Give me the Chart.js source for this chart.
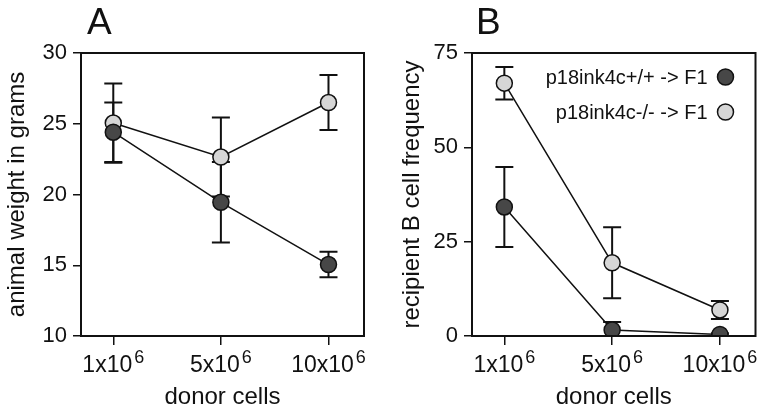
<!DOCTYPE html>
<html>
<head>
<meta charset="utf-8">
<script src="https://cdn.jsdelivr.net/npm/chart.js@4.4.1/dist/chart.umd.min.js"></script>
<style>
    html, body { margin: 0; padding: 0; background: #fff; }
    #wrap { position: relative; width: 765px; height: 413px; }
    canvas { position: absolute; top: 0; }
</style>
</head>
<body>
<div id="wrap">
    <canvas id="weightChart" width="390" height="413" style="left:0"></canvas>
    <canvas id="freqChart" width="375" height="413" style="left:390px"></canvas>
</div>
<script>
// Categories (x axis): base text + exponent
const donorCells = ['1x10', '5x10', '10x10'];
const donorExp = '6';
const seriesNames = ['p18ink4c+/+ -> F1', 'p18ink4c-/- -> F1'];

// Panel A: animal weight in grams (mean, error)
const weightWt = [24.4, 19.45, 15.05];
const weightWtErr = [2.1, 2.85, 0.9];
const weightKo = [25.05, 22.65, 26.5];
const weightKoErr = [2.8, 2.8, 1.95];
const weightTicks = [10, 15, 20, 25, 30];

// Panel B: recipient B cell frequency (mean, error)
const freqWt = [34.2, 1.6, 0.4];
const freqWtErr = [10.6, 2.1, 0.3];
const freqKo = [67.0, 19.4, 6.9];
const freqKoErr = [4.3, 9.4, 2.4];
const freqTicks = [0, 25, 50, 75];

const FONT = '"Liberation Sans", Arial, sans-serif';
const DARK = '#474747';
const LIGHT = '#d6d6d6';
const INK = '#111111';

Chart.defaults.font.family = FONT;
Chart.defaults.color = INK;

function toPoints(values) {
    return values.map((v, i) => ({ x: i, y: v }));
}

function makeDataset(label, values, errors, fill) {
    return {
        label: label,
        data: toPoints(values),
        errors: errors,
        borderColor: INK,
        borderWidth: 1.5,
        pointBackgroundColor: fill,
        pointBorderColor: INK,
        pointBorderWidth: 1.5,
        pointRadius: 8,
        pointHoverRadius: 8,
        tension: 0,
        fill: false,
    };
}

/**
 * Error bars drawn under the lines and points
 */
const errorBarPlugin = {
    id: 'errorBars',
    beforeDatasetsDraw(chart) {
        const ctx = chart.ctx;
        const xs = chart.scales.x;
        const ys = chart.scales.y;
        const area = chart.chartArea;
        ctx.save();
        ctx.beginPath();
        ctx.rect(area.left, area.top, area.right - area.left, area.bottom - area.top);
        ctx.clip();
        ctx.strokeStyle = INK;
        ctx.lineWidth = 2;
        chart.data.datasets.forEach(ds => {
            ds.data.forEach((p, i) => {
                const err = ds.errors[i];
                const x = xs.getPixelForValue(p.x);
                const yTop = ys.getPixelForValue(p.y + err);
                const yBot = ys.getPixelForValue(p.y - err);
                ctx.beginPath();
                ctx.moveTo(x, yTop);
                ctx.lineTo(x, yBot);
                ctx.moveTo(x - 9, yTop);
                ctx.lineTo(x + 9, yTop);
                ctx.moveTo(x - 9, yBot);
                ctx.lineTo(x + 9, yBot);
                ctx.stroke();
            });
        });
        ctx.restore();
    }
};

/**
 * Frame, panel letter, x tick labels with exponent, optional legend
 */
const decorPlugin = {
    id: 'decor',
    afterDraw(chart, args, opts) {
        const ctx = chart.ctx;
        const area = chart.chartArea;
        const xs = chart.scales.x;
        ctx.save();

        // box round plot area
        ctx.strokeStyle = INK;
        ctx.lineWidth = 2;
        ctx.strokeRect(area.left, area.top, area.right - area.left, area.bottom - area.top);

        // panel letter
        ctx.fillStyle = INK;
        ctx.textBaseline = 'alphabetic';
        ctx.textAlign = 'left';
        ctx.font = '37px ' + FONT;
        ctx.fillText(opts.letter, area.left + opts.letterDx, 34);

        // x tick labels: 1x10^6 ...
        donorCells.forEach((txt, i) => {
            const x = xs.getPixelForValue(i);
            ctx.font = '23px ' + FONT;
            const wBase = ctx.measureText(txt).width;
            ctx.font = '18px ' + FONT;
            const wExp = ctx.measureText(donorExp).width;
            const start = x - (wBase + 2 + wExp) / 2;
            ctx.font = '23px ' + FONT;
            ctx.fillText(txt, start, 372);
            ctx.font = '18px ' + FONT;
            ctx.fillText(donorExp, start + wBase + 2, 363);
        });

        // legend inside plot, markers on the right
        if (opts.legend) {
            const fills = [DARK, LIGHT];
            ctx.font = '20px ' + FONT;
            ctx.textAlign = 'right';
            ctx.textBaseline = 'middle';
            seriesNames.forEach((name, i) => {
                const y = 77 + i * 35;
                ctx.fillStyle = INK;
                ctx.fillText(name, area.right - 48, y + 1);
                ctx.beginPath();
                ctx.arc(area.right - 30, y, 8, 0, Math.PI * 2);
                ctx.fillStyle = fills[i];
                ctx.fill();
                ctx.lineWidth = 1.5;
                ctx.strokeStyle = INK;
                ctx.stroke();
            });
        }
        ctx.restore();
    }
};

function buildChart(canvasId, cfg) {
    const canvas = document.getElementById(canvasId);
    return new Chart(canvas, {
        type: 'line',
        data: {
            datasets: [
                makeDataset(seriesNames[0], cfg.wt, cfg.wtErr, DARK),
                makeDataset(seriesNames[1], cfg.ko, cfg.koErr, LIGHT),
            ]
        },
        options: {
            responsive: false,
            animation: false,
            events: [],
            layout: {
                padding: { left: 0, top: 53, right: cfg.padRight, bottom: 0 }
            },
            plugins: {
                legend: { display: false },
                tooltip: { enabled: false },
                decor: { letter: cfg.letter, letterDx: cfg.letterDx, legend: cfg.legend },
            },
            scales: {
                x: {
                    type: 'linear',
                    min: -0.3,
                    max: 2.33,
                    afterBuildTicks: (scale) => {
                        scale.ticks = donorCells.map((c, i) => ({ value: i }));
                    },
                    afterFit: (scale) => { scale.height = 77; },
                    ticks: { display: false },
                    grid: {
                        drawOnChartArea: false,
                        drawTicks: true,
                        tickLength: 9,
                        color: INK,
                        lineWidth: 1.5,
                    },
                    border: { display: false },
                    title: {
                        display: true,
                        text: 'donor cells',
                        font: { size: 24 },
                        color: INK,
                        padding: { top: 0, bottom: 1 },
                    }
                },
                y: {
                    min: cfg.ticks[0],
                    max: cfg.ticks[cfg.ticks.length - 1],
                    afterBuildTicks: (scale) => {
                        scale.ticks = cfg.ticks.map(v => ({ value: v }));
                    },
                    afterFit: (scale) => { scale.width = cfg.yWidth; },
                    ticks: {
                        font: { size: 22 },
                        color: INK,
                        padding: 6,
                    },
                    grid: {
                        drawOnChartArea: false,
                        drawTicks: true,
                        tickLength: 8,
                        color: INK,
                        lineWidth: 1.5,
                    },
                    border: { display: false },
                    title: {
                        display: true,
                        text: cfg.yTitle,
                        font: { size: 24 },
                        color: INK,
                        padding: { top: cfg.titlePad, bottom: 0 },
                    }
                }
            }
        },
        plugins: [errorBarPlugin, decorPlugin]
    });
}

buildChart('weightChart', {
    wt: weightWt, wtErr: weightWtErr, ko: weightKo, koErr: weightKoErr,
    ticks: weightTicks, yTitle: 'animal weight in grams',
    yWidth: 81, padRight: 26, titlePad: 3, letter: 'A', letterDx: 6, legend: false
});

buildChart('freqChart', {
    wt: freqWt, wtErr: freqWtErr, ko: freqKo, koErr: freqKoErr,
    ticks: freqTicks, yTitle: 'recipient B cell frequency',
    yWidth: 82, padRight: 7, titlePad: 8, letter: 'B', letterDx: 4, legend: true
});
</script>
</body>
</html>
